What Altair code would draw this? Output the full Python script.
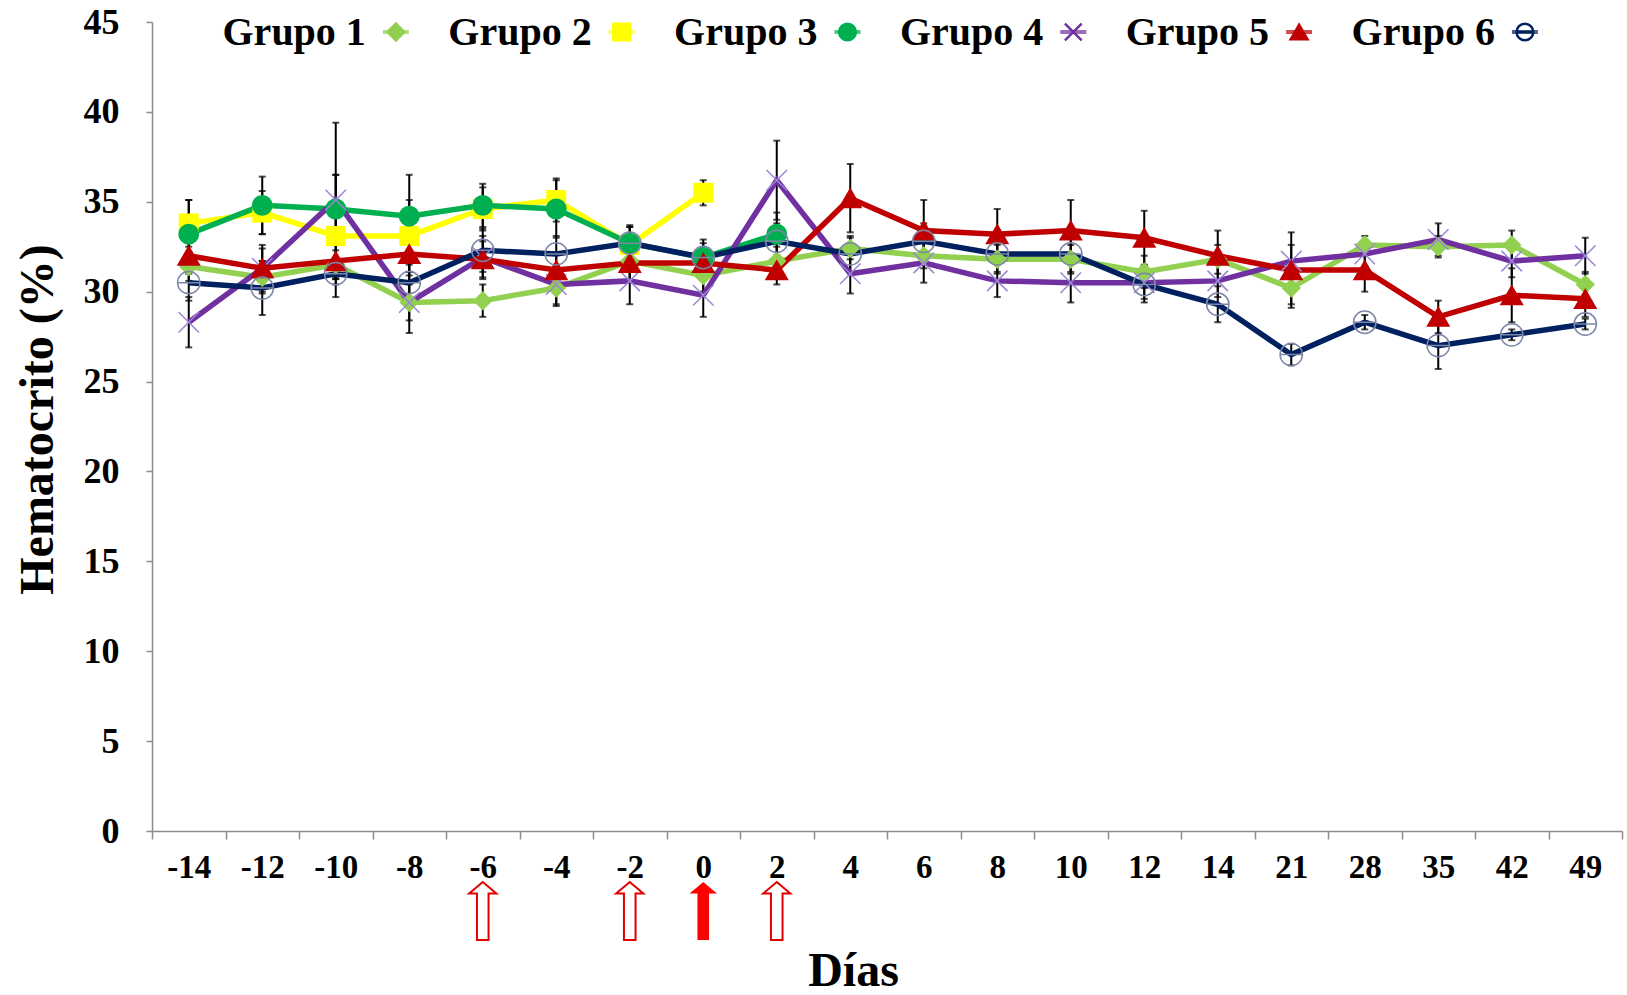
import altair as alt
import pandas as pd

# ---------------- data ----------------
days = ["-14", "-12", "-10", "-8", "-6", "-4", "-2", "0", "2", "4",
        "6", "8", "10", "12", "14", "21", "28", "35", "42", "49"]
groups = ["Grupo 1", "Grupo 2", "Grupo 3", "Grupo 4", "Grupo 5", "Grupo 6"]

g1_mean = [31.4, 30.8, 31.5, 29.4, 29.5, 30.2, 31.7, 30.9, 31.7, 32.4,
           32.0, 31.8, 31.8, 31.1, 31.8, 30.2, 32.6, 32.5, 32.6, 30.4]
g1_sd = [0.8, 0.9, 0.8, 1.0, 0.9, 1.0, 1.2, 0.9, 0.8, 0.6,
         0.7, 0.8, 0.8, 0.9, 0.8, 0.9, 0.5, 0.6, 0.8, 0.7]

g2_mean = [33.8, 34.4, 33.1, 33.1, 34.6, 35.1, 32.6, 35.5]
g2_sd = [1.3, 1.2, 3.4, 2.0, 1.2, 1.2, 1.0, 0.7]

g3_mean = [33.2, 34.8, 34.6, 34.2, 34.8, 34.6, 32.7, 31.9, 33.2]
g3_sd = [1.9, 1.6, 1.9, 2.3, 1.2, 1.6, 0.9, 0.8, 1.2]

g4_mean = [28.3, 31.3, 35.1, 29.4, 31.9, 30.4, 30.6, 29.8, 36.2, 31.0,
           31.6, 30.6, 30.5, 30.5, 30.6, 31.7, 32.1, 32.9, 31.7, 32.0]
g4_sd = [1.4, 1.3, 4.3, 1.7, 1.2, 1.1, 1.3, 1.2, 2.2, 1.1,
         1.1, 0.9, 1.1, 0.9, 0.9, 0.9, 0.8, 0.9, 0.9, 1.0]

g5_mean = [32.0, 31.3, 31.7, 32.1, 31.8, 31.2, 31.6, 31.6, 31.2, 35.2,
           33.4, 33.2, 33.4, 33.0, 32.0, 31.2, 31.2, 28.6, 29.8, 29.6]
g5_sd = [1.0, 1.1, 1.0, 1.2, 1.0, 1.0, 1.0, 0.8, 0.8, 1.9,
         1.7, 1.4, 1.7, 1.5, 1.4, 2.1, 1.2, 0.9, 1.5, 1.0]

g6_mean = [30.5, 30.2, 31.0, 30.5, 32.3, 32.1, 32.7, 31.9, 32.8, 32.1,
           32.8, 32.1, 32.1, 30.4, 29.3, 26.5, 28.3, 27.0, 27.6, 28.2]
g6_sd = [1.0, 1.5, 0.6, 1.0, 1.2, 1.0, 1.0, 1.0, 1.0, 1.0,
         1.0, 1.0, 1.0, 1.0, 1.0, 0.6, 0.4, 1.3, 0.3, 0.3]

line_colors = ["#92D050", "#FFFF00", "#00B050", "#7030A0", "#C00000", "#002060"]
fill_colors = ["#92D050", "#FFFF00", "#00B050", "transparent", "#C00000", "transparent"]
stroke_colors = ["#92D050", "#FFFF00", "#00B050", "#9C86D6", "#C00000", "#7C86A8"]
shapes = ["diamond", "square", "circle",
          "M-1,-1L1,1M-1,1L1,-1",
          "triangle-up",
          "M-1,0A1,1,0,1,1,1,0A1,1,0,1,1,-1,0ZM-1,0L1,0"]
sizes = [300, 500, 330, 420, 360, 300]

# legend: slot index of each group (left to right)
legend_slot = [0, 1, 2, 3, 4, 5]

arrow_hollow_days = ["-6", "-2", "2"]
arrow_filled_days = ["0"]
arrow_path = "M0,-1L0.47,-0.6L0.2,-0.6L0.2,1L-0.2,1L-0.2,-0.6L-0.47,-0.6Z"

# ---------------- tables ----------------
rows = []
series = [(g1_mean, g1_sd), (g2_mean, g2_sd), (g3_mean, g3_sd),
          (g4_mean, g4_sd), (g5_mean, g5_sd), (g6_mean, g6_sd)]
for gi, (m, s) in enumerate(series):
    for di, (mv, sv) in enumerate(zip(m, s)):
        rows.append({"dia": days[di], "grupo": groups[gi], "media": mv,
                     "lo": round(mv - sv, 2), "hi": round(mv + sv, 2), "ord": gi})
df = pd.DataFrame(rows)
leg_df = pd.DataFrame({"grupo": groups, "slot": legend_slot})

arrows_h = pd.DataFrame({"dia": arrow_hollow_days})
arrows_f = pd.DataFrame({"dia": arrow_filled_days})

FONT = "Liberation Serif"

xscale = alt.Scale(type="band", domain=days, paddingInner=0, paddingOuter=0)
xenc = alt.X("dia:N", sort=days, scale=xscale,
             axis=alt.Axis(title="Días", labelAngle=0, tickBand="extent",
                           titleX=701, titleY=154, titleBaseline="alphabetic",
                           titleAnchor="start", titleAlign="center"))
yaxis = alt.Axis(title="Hematocrito (%)", values=list(range(0, 46, 5)),
                 titleX=-100, titleY=397, titleAngle=-90,
                 titleBaseline="alphabetic", titleAlign="center")
yscale = alt.Scale(domain=[0, 45], nice=False, zero=True)

col_scale = alt.Scale(domain=groups, range=line_colors)
shape_scale = alt.Scale(domain=groups, range=shapes)
fill_scale = alt.Scale(domain=groups, range=fill_colors)
stroke_scale = alt.Scale(domain=groups, range=stroke_colors)
size_scale = alt.Scale(domain=groups, range=sizes)

base = alt.Chart(df)

err = base.mark_rule(color="black", strokeWidth=2).encode(
    x=xenc,
    y=alt.Y("lo:Q", scale=yscale, axis=yaxis),
    y2="hi:Q")
cap_lo = base.mark_tick(color="black", thickness=2, size=7).encode(
    x=xenc, y=alt.Y("lo:Q", scale=yscale, axis=yaxis))
cap_hi = base.mark_tick(color="black", thickness=2, size=7).encode(
    x=xenc, y=alt.Y("hi:Q", scale=yscale, axis=yaxis))

lines = base.mark_line(strokeWidth=5.5).encode(
    x=xenc,
    y=alt.Y("media:Q", scale=yscale, axis=yaxis),
    color=alt.Color("grupo:N", scale=col_scale, legend=None),
    order=alt.Order("ord:Q"),
    detail="grupo:N")

points = base.mark_point(strokeWidth=1.5, opacity=1).encode(
    x=xenc,
    y=alt.Y("media:Q", scale=yscale, axis=yaxis),
    shape=alt.Shape("grupo:N", scale=shape_scale, legend=None),
    fill=alt.Fill("grupo:N", scale=fill_scale, legend=None),
    stroke=alt.Stroke("grupo:N", scale=stroke_scale, legend=None),
    size=alt.Size("grupo:N", scale=size_scale, legend=None))

arr_h = alt.Chart(arrows_h).mark_point(shape=arrow_path, size=3364,
                                       stroke="#E00000", strokeWidth=2, filled=False, opacity=1).encode(
    x=xenc, y=alt.value(889), fill=alt.value("white"))
arr_f = alt.Chart(arrows_f).mark_point(shape=arrow_path, size=3364, filled=True,
                                       color="#FF0000", opacity=1).encode(
    x=xenc, y=alt.value(889))

main = alt.layer(err, cap_lo, cap_hi, lines, points, arr_h, arr_f)

# ---------------- legend (label left of the symbol) ----------------
legx = alt.X("slot:Q", scale=alt.Scale(domain=[-1.08, 5.43], nice=False, zero=False), axis=None)
lbase = alt.Chart(leg_df)
leg_text = lbase.mark_text(align="right", baseline="alphabetic", dx=-30,
                           font=FONT, fontWeight="bold", fontSize=40, color="black").encode(
    x=legx, y=alt.value(23), text="grupo:N")
leg_line = lbase.mark_tick(orient="horizontal", size=26, thickness=4).encode(
    x=legx, y=alt.value(10),
    color=alt.Color("grupo:N", scale=col_scale, legend=None))
leg_sym = lbase.mark_point(strokeWidth=2.5, opacity=1).encode(
    x=legx, y=alt.value(10),
    shape=alt.Shape("grupo:N", scale=shape_scale, legend=None),
    fill=alt.Fill("grupo:N", scale=fill_scale, legend=None),
    stroke=alt.Stroke("grupo:N", scale=alt.Scale(domain=groups, range=line_colors), legend=None),
    size=alt.value(280))
legend = alt.layer(leg_line, leg_sym, leg_text)

chart = alt.layer(main, legend).resolve_scale(x="independent", stroke="independent").properties(
    width=1470, height=809,
    autosize=alt.AutoSizeParams(type="none"),
    padding={"left": 152, "top": 22, "right": 5, "bottom": 164},
).configure_view(stroke=None).configure_axis(
    labelFont=FONT, labelFontWeight="bold", labelColor="black",
    titleFont=FONT, titleFontWeight="bold", titleFontSize=48, titleColor="black",
    domainColor="#8c8c8c", domainWidth=1.5, tickColor="#8c8c8c", tickWidth=1.5,
    grid=False,
).configure_axisX(tickSize=8, labelPadding=12, labelFontSize=33).configure_axisY(
    tickSize=6, labelPadding=27, labelFontSize=36
)

chart.save("out.html", embed_options={"renderer": "svg", "actions": False})
